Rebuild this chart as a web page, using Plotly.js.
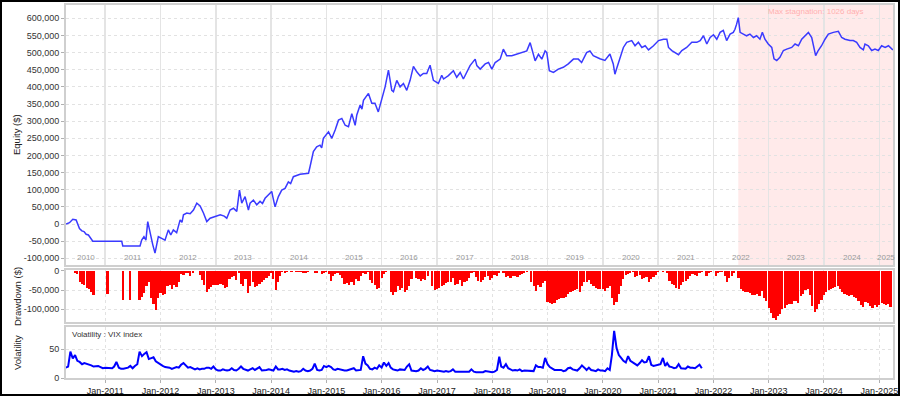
<!DOCTYPE html>
<html><head><meta charset="utf-8">
<script src="https://cdn.plot.ly/plotly-3.0.1.min.js"></script>
<style>
html,body{margin:0;padding:0;background:#fff;}
#wrap{position:relative;width:900px;height:396px;overflow:hidden;}
#chart{width:900px;height:396px;}
#frame{position:absolute;left:0;top:0;width:900px;height:396px;box-sizing:border-box;border:2px solid #000;pointer-events:none;}
</style></head><body>
<div id="wrap"><div id="chart"></div><div id="frame"></div></div>
<script>
// ---------- DATA (equity in thousands of $) ----------
const eq2010 = [['2010-04-18',0],['2010-05-10',4],['2010-06-01',14],['2010-06-23',12],['2010-07-15',-13],['2010-07-31',-20],['2010-08-14',-22],['2010-08-28',-30],['2010-09-12',-32],['2010-09-27',-42],['2010-10-11',-50]];
const eq2011 = [['2011-04-20',-50],['2011-04-27',-64],['2011-08-19',-64],['2011-08-30',-47],['2011-09-14',-37],['2011-09-27',-47],['2011-10-09',7],['2011-10-20',-17],['2011-10-31',-47],['2011-11-11',-60],['2011-11-26',-85],['2011-12-07',-60],['2011-12-18',-37]];
const eq2012 = [['2012-01-09',-42],['2012-01-31',-47],['2012-02-22',-17],['2012-03-09',-32],['2012-03-26',-17],['2012-04-17',-25],['2012-05-10',12],['2012-05-22',5],['2012-06-01',27],['2012-06-23',32],['2012-07-15',30],['2012-08-06',41],['2012-08-28',61],['2012-09-19',53],['2012-10-11',32],['2012-11-02',7],['2012-11-24',17],['2012-12-27',23]];
const eq2013 = [['2013-01-30',27],['2013-02-25',23],['2013-03-14',17],['2013-04-05',41],['2013-04-27',46],['2013-05-19',37],['2013-06-06',99],['2013-06-21',61],['2013-07-13',80],['2013-08-04',41],['2013-08-15',61],['2013-09-06',70],['2013-09-28',56],['2013-10-20',66],['2013-11-05',60],['2013-11-22',75],['2013-12-14',85]];
const eq2014 = [['2014-01-05',95],['2014-01-12',80],['2014-01-27',50],['2014-02-18',80],['2014-03-12',99],['2014-04-03',104],['2014-04-25',123],['2014-05-10',118],['2014-05-28',138],['2014-07-11',145],['2014-09-05',148],['2014-09-15',167],['2014-10-07',211],['2014-10-29',225],['2014-11-20',230],['2014-12-01',222],['2014-12-12',250]];
const eq2015 = [['2015-01-15',269],['2015-02-06',250],['2015-02-28',274],['2015-03-22',303],['2015-04-13',308],['2015-05-05',288],['2015-05-27',284],['2015-06-18',322],['2015-07-10',288],['2015-07-21',318],['2015-08-12',347],['2015-08-24',335],['2015-09-03',361],['2015-10-06',381],['2015-10-28',352],['2015-11-18',352],['2015-12-10',327]];
const eq2016 = [['2016-01-02',361],['2016-01-24',400],['2016-02-15',449],['2016-03-08',390],['2016-03-19',386],['2016-04-10',419],['2016-05-02',400],['2016-05-24',410],['2016-06-15',390],['2016-07-07',419],['2016-07-29',460],['2016-08-20',444],['2016-09-12',432],['2016-10-03',439],['2016-10-25',439],['2016-11-16',463],['2016-12-08',419]];
const eq2017 = [['2017-01-10',410],['2017-02-01',434],['2017-02-13',423],['2017-03-17',433],['2017-04-19',447],['2017-05-11',428],['2017-06-03',442],['2017-06-24',423],['2017-07-16',442],['2017-08-07',462],['2017-09-10',481],['2017-09-21',462],['2017-10-13',452],['2017-11-15',467],['2017-12-07',471],['2017-12-29',452]];
const eq2018 = [['2018-01-20',471],['2018-02-22',481],['2018-03-15',510],['2018-04-06',491],['2018-05-10',491],['2018-06-12',495],['2018-07-15',500],['2018-08-17',505],['2018-09-08',529],['2018-09-30',495],['2018-10-11',476],['2018-11-02',495],['2018-11-24',481],['2018-12-16',505],['2018-12-27',500]];
const eq2019 = [['2019-01-13',447],['2019-02-09',442],['2019-03-13',452],['2019-04-15',457],['2019-05-18',467],['2019-06-21',481],['2019-07-23',481],['2019-08-14',471],['2019-09-16',500],['2019-10-08',505],['2019-10-30',491],['2019-11-21',486],['2019-12-13',482]];
const eq2020 = [['2020-01-15',477],['2020-02-17',496],['2020-03-10',467],['2020-03-21',437],['2020-04-01',453],['2020-04-24',482],['2020-05-16',515],['2020-06-07',530],['2020-07-10',535],['2020-08-01',520],['2020-08-23',530],['2020-09-15',515],['2020-10-07',520],['2020-10-29',508],['2020-12-01',520]];
const eq2021 = [['2021-01-03',535],['2021-02-05',539],['2021-02-27',539],['2021-03-10',515],['2021-04-01',506],['2021-04-22',501],['2021-05-15',494],['2021-06-06',506],['2021-07-08',515],['2021-08-11',530],['2021-09-13',530],['2021-10-05',535],['2021-10-27',549],['2021-11-18',525],['2021-12-10',544]];
const eq2022 = [['2022-01-01',552],['2022-01-23',539],['2022-02-14',559],['2022-03-07',565],['2022-03-29',535],['2022-04-21',554],['2022-05-12',559],['2022-05-23',568],['2022-06-03',583],['2022-06-14',602],['2022-06-26',559],['2022-07-17',554],['2022-08-08',549],['2022-08-30',554],['2022-09-22',544],['2022-10-13',549],['2022-11-04',539],['2022-11-20',559],['2022-12-07',539],['2022-12-29',525]];
const eq2023 = [['2023-01-21',515],['2023-02-05',482],['2023-02-23',477],['2023-03-16',486],['2023-04-08',506],['2023-04-30',510],['2023-06-02',515],['2023-06-24',525],['2023-07-16',520],['2023-08-07',539],['2023-08-29',549],['2023-09-20',559],['2023-10-12',544],['2023-10-27',515],['2023-11-07',491],['2023-11-24',506],['2023-12-16',520]];
const eq2024 = [['2024-01-08',539],['2024-01-30',554],['2024-03-03',559],['2024-04-05',562],['2024-04-27',544],['2024-05-19',539],['2024-06-21',535],['2024-07-13',535],['2024-08-04',530],['2024-08-26',515],['2024-09-17',508],['2024-09-28',525],['2024-10-20',520],['2024-11-11',506],['2024-12-03',510],['2024-12-25',506]];
const eq2025 = [['2025-01-16',520],['2025-02-08',515],['2025-03-02',520],['2025-03-31',508]];

// Drawdown in thousands of $, sampled on the 1st and 16th of each month, starting 2010-04-16
const dd2010 = [0,0,0,0,-4,-8,-28,-34,-37,-44,-46,-56,-64,0,0,0,0];
const dd2011 = [0,-61,0,0,0,0,0,0,-76,0,0,-75,0,0,0,-76,-68,-58,-40,-30,-70,-88,-103,-70];
const dd2012 = [-58,-62,-60,-40,-38,-46,-38,-42,-30,-8,-10,-4,-6,-12,-6,0,0,-10,-24,-36,-54,-48,-42,-38];
const dd2013 = [-38,-36,-34,-38,-44,-42,-22,-16,-14,-24,-4,-34,-40,-20,-58,-40,-30,-42,-40,-34,-30,-24,-18,-14];
const dd2014 = [-4,-20,-50,-30,-14,-2,-4,-2,0,-3,0,-2,-3,-2,-4,-6,-3,0,0,-6,-4,0,-8,-4];
const dd2015 = [-2,-8,-26,-14,-8,-4,-10,-18,-34,-32,-38,-28,-36,-20,-26,-14,-4,-8,-2,-24,-32,-36,-46,-44];
const dd2016 = [-18,-8,-2,0,-55,-62,-56,-40,-50,-44,-54,-50,-40,-20,0,-18,-22,-26,-22,-24,-12,0,-40,-50];
const dd2017 = [-48,-44,-40,-36,-32,-30,-30,-18,-36,-34,-24,-40,-30,-26,-18,-6,-2,-16,-26,-30,-24,-16,-12,-24];
const dd2018 = [-18,-10,-14,-4,0,-6,-16,-14,-18,-14,-12,-16,-10,-8,-6,-3,0,-30,-40,-52,-36,-42,-32,-26];
const dd2019 = [-82,-85,-86,-84,-76,-74,-72,-70,-68,-60,-56,-52,-50,-48,-56,-40,-30,-28,-24,-34,-40,-44,-46,-48];
const dd2020 = [-48,-52,-44,-40,-70,-90,-82,-60,-40,-20,-10,-8,-4,-2,-15,-12,-10,-22,-18,-16,-28,-22,-16,-10];
const dd2021 = [-2,0,-3,0,-6,-26,-34,-38,-44,-46,-36,-30,-26,-22,-14,-8,-10,-12,-6,-2,0,-14,-6,-2];
const dd2022 = [0,-14,-6,-2,-2,-14,-30,-18,-12,-6,0,-18,-46,-52,-55,-54,-58,-64,-62,-60,-66,-52,-70,-80];
const dd2023 = [-96,-110,-124,-128,-118,-112,-100,-96,-90,-88,-86,-80,-78,-84,-66,-60,-50,-46,-62,-92,-108,-100,-88,-76];
const dd2024 = [-64,-56,-50,-46,-44,-42,-40,-48,-56,-60,-62,-66,-64,-68,-72,-80,-90,-94,-82,-84,-92,-96,-90,-94];
const dd2025 = [-90,-84,-86,-90,-86,-94];

// VIX index, sampled on the 1st and 16th of each month, starting 2010-04-16
const vix2010 = [18,20,46,34,40,30,28,24,26,25,23,22,20,21,21,19,17];
const vix2011 = [18,18,18,17,20,28,18,16,16,17,18,21,17,21,24,46,38,42,45,33,34,36,29,26];
const vix2012 = [24,21,19,19,18,16,17,19,18,23,26,22,18,19,17,15,17,15,16,16,18,18,16,20];
const vix2013 = [15,13,13,15,14,13,14,17,14,13,16,20,16,14,13,15,17,14,17,19,13,13,14,15];
const vix2014 = [14,13,20,15,15,16,14,15,13,12,11,12,11,12,16,13,12,13,16,25,14,13,14,21];
const vix2015 = [19,21,19,15,14,16,15,13,13,13,14,16,17,13,13,14,38,25,22,16,15,18,16,22];
const vix2016 = [18,27,21,26,18,15,14,13,15,15,14,20,24,13,12,12,13,17,14,16,20,14,13,12];
const vix2017 = [13,12,11,11,12,11,12,15,11,11,10,10,11,10,11,15,11,10,10,10,10,12,11,10];
const vix2018 = [10,11,14,37,20,18,24,17,15,13,14,13,15,12,13,13,13,12,12,22,19,19,18,35];
const vix2019 = [24,19,16,14,14,14,14,12,13,17,18,15,14,13,17,22,18,14,18,14,13,12,15,13];
const vix2020 = [13,12,17,14,40,82,52,40,35,30,27,38,30,27,25,22,26,31,27,28,38,23,21,22];
const vix2021 = [23,24,35,21,26,20,19,17,18,24,17,17,16,20,18,18,17,20,23,17];

const equityTicks = [-100000,-50000,0,50000,100000,150000,200000,250000,300000,350000,400000,450000,500000,550000,600000];
const equityTickLabels = ['-100,000','-50,000','0','50,000','100,000','150,000','200,000','250,000','300,000','350,000','400,000','450,000','500,000','550,000','600,000'];
const ddTicks = [-100000,-50000,0];
const ddTickLabels = ['-100,000','-50,000','0'];
const volTicks = [0,50];
const volTickLabels = ['0','50'];
const yearLabels = ['2010','2011','2012','2013','2014','2015','2016','2017','2018','2019','2020','2021','2022','2023','2024','2025'];
const stagnationStart = '2022-06-14';
const stagnationText = 'Max stagnation: 1026 days';
const xStart = '2010-04-17', xEnd = '2025-04-01';

// ---------- BUILD ----------
const equity = [].concat(eq2010,eq2011,eq2012,eq2013,eq2014,eq2015,eq2016,eq2017,eq2018,eq2019,eq2020,eq2021,eq2022,eq2023,eq2024,eq2025);
const dd = [].concat(dd2010,dd2011,dd2012,dd2013,dd2014,dd2015,dd2016,dd2017,dd2018,dd2019,dd2020,dd2021,dd2022,dd2023,dd2024,dd2025);
const vix = [].concat(vix2010,vix2011,vix2012,vix2013,vix2014,vix2015,vix2016,vix2017,vix2018,vix2019,vix2020,vix2021);

function pad(n){return (n<10?'0':'')+n;}
function semiMonthly(n){
  const out=[]; let y=2010,m=4,d=16;
  for(let i=0;i<n;i++){
    out.push(y+'-'+pad(m)+'-'+pad(d));
    if(d===1){d=16;}else{d=1;m++;if(m>12){m=1;y++;}}
  }
  return out;
}
const ddDates = semiMonthly(dd.length);
const vixDates = semiMonthly(vix.length);

const DAY = 86400000;
function midDate(a,b){const t=(Date.parse(a)+Date.parse(b))/2;return new Date(t).toISOString().slice(0,10);}

const traces = [
  {type:'bar', x:ddDates, y:dd.map(v=>v*1000), xaxis:'x2', yaxis:'y2',
   marker:{color:'#ff0000', line:{width:0}}, width:14.5*DAY, hoverinfo:'skip'},
  {type:'scatter', mode:'lines', x:equity.map(p=>p[0]), y:equity.map(p=>p[1]*1000), xaxis:'x', yaxis:'y',
   line:{color:'#3a3aff', width:1.5}, hoverinfo:'skip'},
  {type:'scatter', mode:'lines', x:vixDates, y:vix, xaxis:'x3', yaxis:'y3',
   line:{color:'#0000ff', width:2}, hoverinfo:'skip'}
];

const W=900,H=396;
const xDom=[66/W, 893/W];
const frame = {showline:true, mirror:true, linecolor:'#cfcfcf', linewidth:2, zeroline:false};
const xBase = Object.assign({type:'date', domain:xDom, range:[xStart,xEnd], dtick:'M12', tick0:'2011-01-01', showgrid:true}, frame);
const yBase = Object.assign({ticks:'outside', ticklen:3, tickcolor:'#b0b0b0', showgrid:true, gridcolor:'#e2e2e2', griddash:'dot', gridwidth:1, tickfont:{size:9, color:'#333'}}, frame);

const annotations = [];
yearLabels.forEach((yl,i)=>{
  let x;
  if(i===0) x = midDate(xStart, (+yl+1)+'-01-01');
  else if(i===yearLabels.length-1) x = midDate(yl+'-01-01', xEnd);
  else x = yl+'-07-02';
  annotations.push({xref:'x', yref:'y domain', x:x, y:0.027, text:yl, showarrow:false,
    font:{size:8, color:'#9a9a9a'}, xanchor:'center', yanchor:'middle'});
});
annotations.push({xref:'x', yref:'y domain', x:midDate(stagnationStart,xEnd), y:0.975, text:stagnationText, showarrow:false,
  font:{size:8, color:'#ffb0b0'}, xanchor:'center', yanchor:'middle'});
annotations.push({xref:'paper', yref:'y3 domain', x:70/W, y:0.86, text:'Volatility : VIX index', showarrow:false,
  font:{size:8, color:'#333'}, xanchor:'left', yanchor:'middle'});
// axis titles
annotations.push({xref:'paper', yref:'paper', x:17/W, y:1-135/H, text:'Equity ($)', textangle:-90, showarrow:false, font:{size:9.5, color:'#222'}, xanchor:'center', yanchor:'middle'});
annotations.push({xref:'paper', yref:'paper', x:17/W, y:1-297/H, text:'Drawdown ($)', textangle:-90, showarrow:false, font:{size:9.5, color:'#222'}, xanchor:'center', yanchor:'middle'});
annotations.push({xref:'paper', yref:'paper', x:17/W, y:1-353/H, text:'Volatility', textangle:-90, showarrow:false, font:{size:9.5, color:'#222'}, xanchor:'center', yanchor:'middle'});

const layout = {
  width:W, height:H, margin:{l:0,r:0,t:0,b:0}, paper_bgcolor:'#fff', plot_bgcolor:'#fff', showlegend:false,
  font:{family:'"Liberation Sans", Arial, sans-serif', size:9, color:'#333'},
  xaxis: Object.assign({}, xBase, {anchor:'y', showticklabels:false, ticks:'', gridcolor:'#e4e4e4', gridwidth:1.5}),
  yaxis: Object.assign({}, yBase, {anchor:'x', domain:[1-265/H, 1-5/H], range:[-119500, 638800], tickvals:equityTicks, ticktext:equityTickLabels}),
  xaxis2: Object.assign({}, xBase, {anchor:'y2', matches:'x', showticklabels:false, ticks:'', gridcolor:'#e2e2e2', griddash:'dot'}),
  yaxis2: Object.assign({}, yBase, {anchor:'x2', domain:[1-322/H, 1-270/H], range:[-134000, 2600], tickvals:ddTicks, ticktext:ddTickLabels}),
  xaxis3: Object.assign({}, xBase, {anchor:'y3', matches:'x', showticklabels:true, tickformat:'%b-%Y', ticks:'outside', ticklen:3, tickcolor:'#b0b0b0', gridcolor:'#e2e2e2', griddash:'dot', tickfont:{size:9, color:'#222'}}),
  yaxis3: Object.assign({}, yBase, {anchor:'x3', domain:[1-378/H, 1-327/H], range:[0, 88.9], tickvals:volTicks, ticktext:volTickLabels}),
  bargap:0,
  shapes:[
    {type:'rect', xref:'x', yref:'y domain', x0:stagnationStart, x1:xEnd, y0:0, y1:1, fillcolor:'#ffeaea', line:{width:0}, layer:'below'}
  ],
  annotations:annotations
};

Plotly.newPlot('chart', traces, layout, {staticPlot:true, displayModeBar:false});
</script></body></html>
